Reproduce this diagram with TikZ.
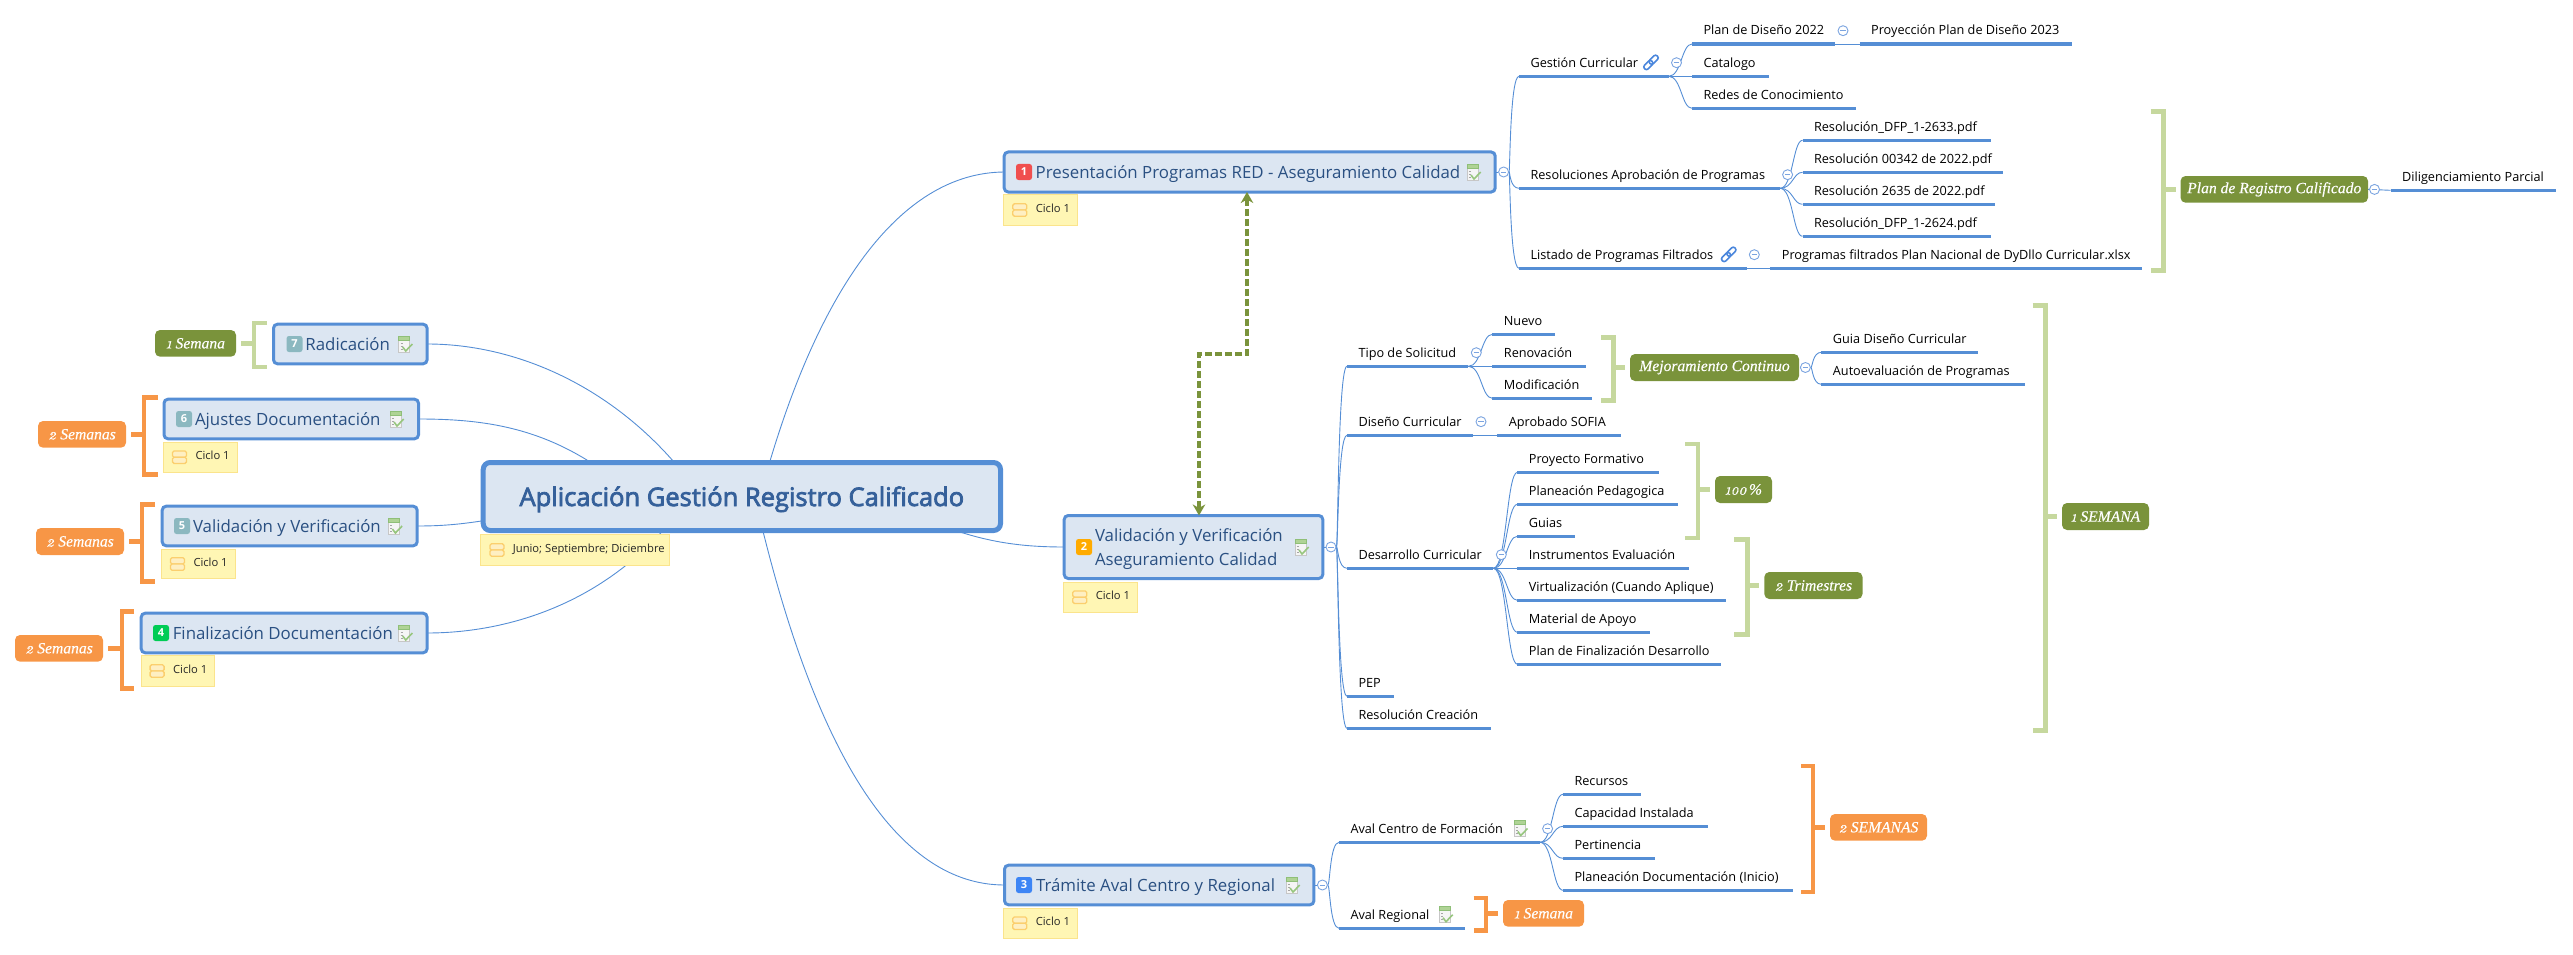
\documentclass[tikz,border=0pt]{standalone}
\usepackage{fontspec}
\setmainfont{Open Sans}
\newfontfamily\tagfont{Liberation Serif}[FakeBold=0.35]
\newfontfamily\centfont{Open Sans}[FakeBold=3]
\newfontfamily\oldnumfont{Latin Modern Roman}[Numbers=OldStyle,FakeBold=0.5]
\usetikzlibrary{arrows.meta,calc}
\pgfdeclarelayer{back}
\pgfsetlayers{back,main}
\definecolor{bluel}{HTML}{558ED5}
\definecolor{bluec}{HTML}{7BA4E0}
\definecolor{boxf}{HTML}{DCE6F2}
\definecolor{boxt}{HTML}{2A5082}
\definecolor{cent}{HTML}{35609A}
\definecolor{notef}{HTML}{FFF6B4}
\definecolor{noted}{HTML}{FBE48C}
\definecolor{tgreen}{HTML}{7A933B}
\definecolor{lgreen}{HTML}{C6D89E}
\definecolor{torange}{HTML}{F79646}
\definecolor{link}{HTML}{4A86DC}
\definecolor{icbar}{HTML}{AFD395}
\definecolor{icbard}{HTML}{8FBF78}
\definecolor{icchk}{HTML}{97C67E}
\definecolor{nif}{HTML}{FEEFC2}
\definecolor{nid}{HTML}{FBCF6E}
\tikzset{
 topic/.style={inner sep=0pt,outer sep=0pt,text height=14pt,text depth=9pt,font=\fontsize{12.7}{16}\selectfont,text=black},
 ulline/.style={draw=bluel,line width=3.2pt},
 thinc/.style={draw=bluel,line width=.9pt},
 coll/.style={circle,draw=bluec,fill=white,line width=.9pt,inner sep=0pt,minimum size=10pt,
   path picture={\draw[bluec,line width=.9pt] ($(path picture bounding box.center)+(-2.8,0)$) -- ($(path picture bounding box.center)+(2.8,0)$);}},
 bigbox/.style={draw=bluel,fill=boxf,line width=3pt,rounded corners=4pt,inner sep=0pt,outer sep=0pt,
   text height=19pt,text depth=6.4pt,font=\fontsize{16.85}{20}\selectfont,text=boxt},
 notebox/.style={draw=noted,fill=notef,line width=1pt,inner sep=0pt,outer sep=0pt,
   text height=9pt,text depth=5pt,font=\fontsize{11.2}{12}\selectfont,text=black!85},
 tagb/.style={rounded corners=5pt,inner sep=0pt,outer sep=0pt,text=white,font=\tagfont\itshape\fontsize{15.6}{18}\selectfont},
 badge/.style={rounded corners=2.5pt,inner sep=0pt,minimum size=16pt,text=white,font=\bfseries\fontsize{11}{12}\selectfont},
 brk/.style={line width=4.5pt,line join=miter},
 curve/.style={draw=bluel,line width=.9pt},
 taskicon/.pic={
   \draw[fill=black!4,draw=black!22,line width=.6pt] (0,0) rectangle (11,16);
   \draw[fill=icbar,draw=icbard,line width=.5pt] (0,0) rectangle (11,4);
   \draw[black!35,line width=.6pt] (2,7)--(4,7) (2,10)--(4,10) (2,13)--(4,13);
   \draw[icchk,line width=1.6pt] (4,11)--(7,15)--(13.7,8);
 },
 noteicon/.pic={
   \draw[fill=nif,draw=nid,line width=1.3pt,rounded corners=1.5pt] (-7,-6.2) rectangle (7,0);
   \draw[fill=nif,draw=nid,line width=1.3pt,rounded corners=1.5pt] (-7,0) rectangle (7,6.2);
 },
 linkicon/.pic={
   \begin{scope}[rotate=45]
   \draw[link,line width=1.6pt,rounded corners=2.4pt] (-9,-2.6) rectangle (1.5,2.6);
   \draw[link,line width=1.6pt,rounded corners=2.4pt] (-1.5,-2.6) rectangle (9,2.6);
   \end{scope}
 },
}
% topic with underline: name x0 x1 y text
\newcommand\tp[5]{%
 \pgfmathsetmacro\tpw{#3-(#2)}%
 \node[topic,anchor=south west] (#1) at (#2,#4) {\makebox[\tpw pt][l]{\hspace*{11.5pt}#5}};%
 \draw[ulline] (#1.south west) -- (#1.south east);}
% big box: name x0 x1 y0 y1 textx text
\newcommand\bx[7]{%
 \pgfmathsetmacro\bw{#3-(#2)-3}\pgfmathsetmacro\bh{#5-(#4)-3}\pgfmathsetmacro\btx{#6-(#2)-1.5}%
 \node[bigbox,minimum width=\bw pt,minimum height=\bh pt] (#1) at ({(#2+#3)/2},{(#4+#5)/2}) {\makebox[\bw pt][l]{\hspace*{\btx pt}#7}};}
% note: name x0 x1 y0 y1 text
\newcommand\nt[6]{%
 \pgfmathsetmacro\bw{#3-(#2)-1}\pgfmathsetmacro\bh{#5-(#4)-1}%
 \node[notebox,minimum width=\bw pt,minimum height=\bh pt] (#1) at ({(#2+#3)/2},{(#4+#5)/2}) {\makebox[\bw pt][l]{\hspace*{32pt}#6}};
 \pic at ({#2+16.5},{(#4+#5)/2}) {noteicon};}
% tag: name x0 x1 y0 y1 colour text
\newcommand\tg[7]{%
 \pgfmathsetmacro\bw{#3-(#2)}\pgfmathsetmacro\bh{#5-(#4)}%
 \node[tagb,fill=#6,minimum width=\bw pt,minimum height=\bh pt] (#1) at ({(#2+#3)/2},{(#4+#5)/2}) {#7};}
\newcommand\bdg[5]{\definecolor{bdgc}{HTML}{#4}\node[badge,fill=bdgc] (#1) at (#2,#3) {#5};}
\newcommand\onum[1]{{\oldnumfont\itshape #1}}
% curved connector parent-coordinate, child, spine x
\newcommand\cv[3]{\begin{pgfonlayer}{back}\draw[curve] (#1) .. controls (#3,0 |- #1) and (#3,0 |- #2.south west) .. (#2.south west);\end{pgfonlayer}}
% straight thin link
\newcommand\slk[2]{\begin{pgfonlayer}{back}\draw[thinc] (#1) -- (#2);\end{pgfonlayer}}
% brackets: colour x0 x1 y0 y1
\newcommand\brL[5]{\draw[brk,#1] (#3,#4+2.2) -- (#2+2.2,#4+2.2) -- (#2+2.2,#5-2.2) -- (#3,#5-2.2);}
\newcommand\brR[5]{\draw[brk,#1] (#2,#4+2.2) -- (#3-2.2,#4+2.2) -- (#3-2.2,#5-2.2) -- (#2,#5-2.2);}
\begin{document}
\begin{tikzpicture}[x=1pt,y=-1pt]
\useasboundingbox (0,0) rectangle (2573,955);
% central
\pgfmathsetmacro\cw{1003-480.7-5}
\node[draw=bluel,fill=boxf,line width=5pt,rounded corners=7pt,inner sep=0pt,outer sep=0pt,minimum width=\cw pt,minimum height=68pt,
  text height=25pt,text depth=6pt,font=\centfont\fontsize{25.5}{30}\selectfont,text=cent] (central) at (741.85,496.5) {Aplicación Gestión Registro Calificado};
\nt{nc}{480.4}{669.6}{534.3}{565.7}{Junio; Septiembre; Diciembre}
% main boxes
\bx{b1}{1002.7}{1496.7}{150.5}{193.5}{1035.7}{Presentación Programas RED - Aseguramiento Calidad}
\nt{n1}{1003.3}{1077.7}{194.3}{225.7}{Ciclo 1}
\bdg{bd1}{1024}{172}{F04F4F}{1}
\pic at (1467,164) {taskicon};
\node[coll] (c1) at (1503.6,172) {};
\bx{b2}{1062.7}{1324.3}{514}{580}{1095}{\rlap{\raisebox{12pt}{Validación y Verificación}}\raisebox{-12pt}{Aseguramiento Calidad}}
\nt{n2}{1063.3}{1137.7}{581.7}{612.7}{Ciclo 1}
\bdg{bd2}{1084}{547}{FFAB00}{2}
\pic at (1295,539) {taskicon};
\node[coll] (c2) at (1331,547) {};
\bx{b3}{1003}{1315.4}{863.7}{906.3}{1036}{Trámite Aval Centro y Regional}
\nt{n3}{1003.3}{1077.7}{907.7}{938.7}{Ciclo 1}
\bdg{bd3}{1024}{885}{3D85F5}{3}
\pic at (1286,877) {taskicon};
\node[coll] (c3) at (1322.4,885) {};
\bx{b4}{139.7}{428.6}{611.7}{654.3}{172.8}{Finalización Documentación}
\nt{n4}{140.6}{214.7}{655.3}{686.7}{Ciclo 1}
\bdg{bd4}{161}{633}{00CC55}{4}
\pic at (398.7,625) {taskicon};
\bx{b5}{160.7}{418.7}{504.7}{547.3}{193}{Validación y Verificación}
\nt{n5}{161}{235.7}{548.7}{579.3}{Ciclo 1}
\bdg{bd5}{182}{526}{8BB8C0}{5}
\pic at (388.4,518) {taskicon};
\bx{b6}{162.5}{420}{397.7}{440.3}{195}{Ajustes Documentación}
\nt{n6}{163}{237.5}{441.7}{472.7}{Ciclo 1}
\bdg{bd6}{184}{419}{8BB8C0}{6}
\pic at (390,411) {taskicon};
\bx{b7}{272}{428.6}{322.7}{365.3}{305.4}{Radicación}
\bdg{bd7}{294.5}{344}{8BB8C0}{7}
\pic at (398.7,336) {taskicon};
% central connectors (ends hidden behind the central topic)
\begin{pgfonlayer}{back}
\draw[curve] (b7.east) .. controls (530,344) and (640,400) .. ($(central.center)+(-32,13.5)$);
\draw[curve] (b6.east) .. controls (500,419) and (570,432) .. ($(central.center)+(-92,13.5)$);
\draw[curve] (b5.east) .. controls (445,526) and (465,524) .. ($(central.center)+(-242,21.5)$);
\draw[curve] (b4.east) .. controls (510,633) and (610,602) .. ($(central.center)+(-62,13.5)$);
\draw[curve] (b1.west) .. controls (900,172.7) and (815,290) .. ($(central.center)+(18,0.5)$);
\draw[curve] (b2.west) .. controls (1020,547) and (985,542) .. ($(central.center)+(198,28.5)$);
\draw[curve] (b3.west) .. controls (900,885) and (815,760) .. ($(central.center)+(13,0.5)$);
\draw[thinc] (b1.east) -- (c1);
\draw[thinc] (b2.east) -- (c2);
\draw[thinc] (b3.east) -- (c3);
\end{pgfonlayer}
% relationship
\draw[draw=tgreen,line width=3.6pt,dash pattern=on 7pt off 3pt,{Stealth[length=11pt,width=12.5pt,inset=3.5pt,fill=tgreen]}-{Stealth[length=11pt,width=12.5pt,inset=3.5pt,fill=tgreen]}]
  (1247,0 |- b1.south) -- (1247,354) -- (1199,354) -- (1199,0 |- b2.north);
% branch 1
\tp{t11}{1519}{1668.6}{76.3}{Gestión Curricular}
\pic at (1651,62.4) {linkicon};
\node[coll] (c11) at (1676.5,62.7) {};
\tp{t111}{1692}{1835}{44}{Plan de Diseño 2022}
\node[coll] (c111) at (1843,30.7) {};
\tp{t1111}{1859.6}{2071.5}{44}{Proyección Plan de Diseño 2023}
\tp{t112}{1692}{1768.6}{76.3}{Catalogo}
\tp{t113}{1692}{1856}{108.3}{Redes de Conocimiento}
\tp{t12}{1519}{1780}{188.3}{Resoluciones Aprobación de Programas}
\node[coll] (c12) at (1787.6,174.7) {};
\tp{t121}{1802.5}{1990.6}{140.3}{Resolución\_DFP\_1-2633.pdf}
\tp{t122}{1802.5}{2002.5}{172.3}{Resolución 00342 de 2022.pdf}
\tp{t123}{1802.5}{1995.4}{204.3}{Resolución 2635 de 2022.pdf}
\tp{t124}{1802.5}{1990.6}{236.3}{Resolución\_DFP\_1-2624.pdf}
\tp{t13}{1519}{1746.5}{268.3}{Listado de Programas Filtrados}
\pic at (1728.7,254.4) {linkicon};
\node[coll] (c13) at (1754.3,254.7) {};
\tp{t131}{1770.4}{2142.4}{268.3}{Programas filtrados Plan Nacional de DyDllo Curricular.xlsx}
\cv{c1}{t11}{1510}\cv{c1}{t12}{1510}\cv{c1}{t13}{1510}
\cv{t11.south east}{t111}{1681.5}\cv{t11.south east}{t113}{1681.5}\slk{t11.south east}{t112.south west}
\slk{t111.south east}{t1111.south west}
\cv{t12.south east}{t121}{1793}\cv{t12.south east}{t122}{1793}\cv{t12.south east}{t123}{1793}\cv{t12.south east}{t124}{1793}
\slk{t13.south east}{t131.south west}
% plan de registro
\tg{tplan}{2180.5}{2368}{176}{202.7}{tgreen}{Plan de Registro Calificado}
\brR{lgreen}{2150.7}{2165.6}{109.3}{272.7}
\draw[brk,lgreen] (2163.4,0 |- tplan.west) -- ($(tplan.west)+(-5,0)$);
\node[coll] (cplan) at (2374.5,189.4) {};
\tp{tdil}{2390.6}{2555.5}{190.3}{Diligenciamiento Parcial}
\slk{tplan.east}{tdil.south west}
% branch 2
\tp{t21}{1347}{1468.3}{366.3}{Tipo de Solicitud}
\node[coll] (c21) at (1476.3,352.7) {};
\tp{t211}{1492.4}{1555.4}{334.3}{Nuevo}
\tp{t212}{1492.4}{1585.7}{366.3}{Renovación}
\tp{t213}{1492.4}{1592.4}{398.3}{Modificación}
\tp{t22}{1347}{1473}{435.3}{Diseño Curricular}
\node[coll] (c22) at (1481,421.7) {};
\tp{t221}{1497.3}{1620.5}{435.3}{Aprobado SOFIA}
\tp{t23}{1347}{1493.3}{568.3}{Desarrollo Curricular}
\node[coll] (c23) at (1501.3,554.7) {};
\tp{t231}{1517.4}{1659.4}{472.3}{Proyecto Formativo}
\tp{t232}{1517.4}{1677.7}{504.3}{Planeación Pedagogica}
\tp{t233}{1517.4}{1574.6}{536.3}{Guias}
\tp{t234}{1517.4}{1689.3}{568.3}{Instrumentos Evaluación}
\tp{t235}{1517.4}{1726.3}{600.3}{Virtualización (Cuando Aplique)}
\tp{t236}{1517.4}{1649.5}{632.3}{Material de Apoyo}
\tp{t237}{1517.4}{1720.5}{664.3}{Plan de Finalización Desarrollo}
\tp{t24}{1347}{1393.8}{696.3}{PEP}
\tp{t25}{1347}{1490.6}{728.3}{Resolución Creación}
\cv{c2}{t21}{1338}\cv{c2}{t22}{1338}\cv{c2}{t23}{1338}\cv{c2}{t24}{1338}\cv{c2}{t25}{1338}
\cv{t21.south east}{t211}{1481.5}\cv{t21.south east}{t213}{1481.5}\slk{t21.south east}{t212.south west}
\slk{t22.south east}{t221.south west}
\cv{t23.south east}{t231}{1506.7}\cv{t23.south east}{t232}{1506.7}\cv{t23.south east}{t233}{1506.7}\slk{t23.south east}{t234.south west}
\cv{t23.south east}{t235}{1506.7}\cv{t23.south east}{t236}{1506.7}\cv{t23.south east}{t237}{1506.7}
% mejoramiento
\tg{tmej}{1630}{1799}{354}{381}{tgreen}{Mejoramiento Continuo}
\brR{lgreen}{1601}{1615.6}{335.3}{402.7}
\draw[brk,lgreen] (1613.4,0 |- tmej.west) -- ($(tmej.west)+(-5,0)$);
\node[coll] (cmej) at (1805.4,367.5) {};
\tp{tm1}{1821.4}{1977.5}{352.3}{Guia Diseño Curricular}
\tp{tm2}{1821.4}{2024.7}{384.3}{Autoevaluación de Programas}
\cv{cmej}{tm1}{1812.5}\cv{cmej}{tm2}{1812.5}
% 100 and trimestres
\tg{t100}{1715}{1772}{476}{503}{tgreen}{\onum{100}\,\%}
\brR{lgreen}{1685}{1700}{441.7}{540.3}
\draw[brk,lgreen] (1697.8,0 |- t100.west) -- ($(t100.west)+(-5,0)$);
\tg{ttri}{1764.3}{1862.5}{572}{599}{tgreen}{\onum{2} Trimestres}
\brR{lgreen}{1734.4}{1749.6}{537.3}{636.7}
\draw[brk,lgreen] (1747.4,0 |- ttri.west) -- ($(ttri.west)+(-5,0)$);
\tg{tsem}{2062}{2149}{503}{530}{tgreen}{\onum{1} SEMANA}
\brR{lgreen}{2032.7}{2047.7}{303.3}{732.7}
\draw[brk,lgreen] (2045.5,0 |- tsem.west) -- ($(tsem.west)+(-5,0)$);
% branch 3
\tp{t31}{1339}{1540}{842.3}{Aval Centro de Formación}
\pic at (1513.8,820.5) {taskicon};
\node[coll] (c31) at (1547.6,828.7) {};
\tp{t311}{1563}{1641.3}{794.3}{Recursos}
\tp{t312}{1563}{1707.7}{826.3}{Capacidad Instalada}
\tp{t313}{1563}{1654.7}{858.3}{Pertinencia}
\tp{t314}{1563}{1792.5}{890.3}{Planeación Documentación (Inicio)}
\tp{t32}{1339}{1465.3}{928.3}{Aval Regional}
\pic at (1439,906.7) {taskicon};
\cv{c3}{t31}{1330}\cv{c3}{t32}{1330}
\cv{t31.south east}{t311}{1552.7}\cv{t31.south east}{t312}{1552.7}\cv{t31.south east}{t313}{1552.7}\cv{t31.south east}{t314}{1552.7}
\tg{t2s}{1830}{1927}{814}{840.7}{torange}{\onum{2} SEMANAS}
\brR{torange}{1801.4}{1815.4}{763.7}{894.3}
\draw[brk,torange] (1813.2,0 |- t2s.west) -- ($(t2s.west)+(-5,0)$);
\tg{t1s}{1503}{1584}{900}{926.7}{torange}{\onum{1} Semana}
\brR{torange}{1473.6}{1488.3}{896}{932.7}
\draw[brk,torange] (1486.1,0 |- t1s.west) -- ($(t1s.west)+(-5,0)$);
% left tags
\tg{tl7}{155}{236}{330}{356.7}{tgreen}{\onum{1} Semana}
\brL{lgreen}{252}{267}{320.7}{369.3}
\draw[brk,lgreen] (254.2,0 |- tl7.east) -- ($(tl7.east)+(5,0)$);
\tg{tl6}{38}{126}{421}{447.7}{torange}{\onum{2} Semanas}
\brL{torange}{142}{157.6}{395.3}{476.7}
\draw[brk,torange] (144.2,0 |- tl6.east) -- ($(tl6.east)+(5,0)$);
\tg{tl5}{36}{124}{528}{555}{torange}{\onum{2} Semanas}
\brL{torange}{140}{155}{502.3}{583.7}
\draw[brk,torange] (142.2,0 |- tl5.east) -- ($(tl5.east)+(5,0)$);
\tg{tl4}{15}{103}{635}{661.7}{torange}{\onum{2} Semanas}
\brL{torange}{119.6}{134}{609.3}{690.7}
\draw[brk,torange] (121.8,0 |- tl4.east) -- ($(tl4.east)+(5,0)$);
\end{tikzpicture}
\end{document}
